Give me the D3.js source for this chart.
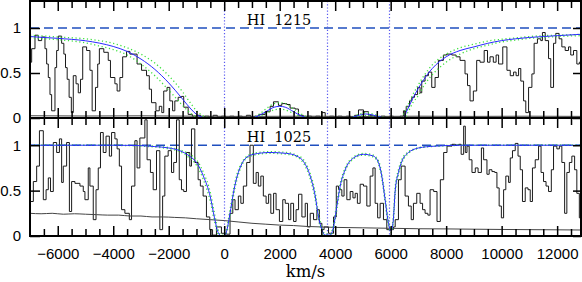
<!DOCTYPE html>
<html>
<head>
<meta charset="utf-8">
<script src="https://cdn.jsdelivr.net/npm/d3@7"></script>
<style>
body { margin: 0; background: #fff; }
svg { display: block; }
.frame { fill: none; stroke: #000; stroke-width: 2; }
.spec { fill: none; stroke: #1a1a1a; stroke-width: 1; }
.err { fill: none; stroke: #444; stroke-width: 1; }
.fit { fill: none; stroke: #2a2aff; stroke-width: 1; }
.band { fill: none; stroke: #3ee03e; stroke-width: 1.3; stroke-dasharray: 1.2,2.6; }
.cont { stroke: #1f4fbf; stroke-width: 1.3; stroke-dasharray: 9,5; }
.vmark { stroke: #5a5af0; stroke-width: 1.2; stroke-dasharray: 1.2,2; }
.ion { font-family: "DejaVu Serif"; font-size: 14.5px; white-space: pre; }
.unit { font-family: "DejaVu Serif"; font-size: 16.5px; }
</style>
</head>
<body>
<svg class="chart"></svg>
<script>

//
// data
//

// velocities of the three absorbers (km/s)
var marks = [0, 3710, 5950];

var xTicks = [-6000, -4000, -2000, 0, 2000, 4000, 6000, 8000, 10000, 12000];
var yTicks = [0, 0.5, 1];

// HI 1215 spectrum, [bin start km/s, flux]
var lyaSpec = [
    [-7000, 0.62], [-6940, 0.77], [-6820, 0.92], [-6700, 0.86], [-6580, 0.90], [-6460, 0.77],
    [-6400, 0.60], [-6340, 0.45], [-6280, 0.26], [-6220, 0.08], [-6100, 0.56], [-6040, 0.75],
    [-5980, 0.91], [-5860, 0.83], [-5780, 0.71], [-5720, 0.56], [-5660, 0.43], [-5590, 0.23],
    [-5510, 0.06], [-5440, 0.47], [-5340, 0.38], [-5260, 0.28], [-5180, 0.43], [-5100, 0.79],
    [-4960, 0.75], [-4840, 0.53], [-4760, 0.08], [-4640, 0.34], [-4560, 0.60], [-4500, 0.77],
    [-4340, 0.73], [-4180, 0.64], [-4100, 0.45], [-3940, 0.38], [-3860, 0.30], [-3760, 0.45],
    [-3660, 0.68], [-3520, 0.74], [-3400, 0.71], [-3140, 0.60], [-2980, 0.53], [-2800, 0.47],
    [-2700, 0.32], [-2620, 0.17], [-2460, 0.08], [-2340, 0.13], [-2250, 0.06], [-2180, 0.30],
    [-2060, 0.34], [-1960, 0.19], [-1860, 0.08], [-1780, 0.19], [-1660, 0.23], [-1540, 0.24],
    [-1460, 0.12], [-1300, 0.04], [-1150, 0.02], [-1000, 0.03], [-850, 0.01], [-700, 0.02],
    [-550, 0.01], [-400, 0.03], [-250, 0.01], [-100, 0.02], [50, 0.01], [200, 0.02],
    [350, 0.01], [500, 0.02], [650, 0.01], [800, 0.03], [950, 0.01], [1100, 0.02],
    [1250, 0.04], [1475, 0.07], [1655, 0.13], [1775, 0.18], [1955, 0.14], [2075, 0.16],
    [2255, 0.15], [2375, 0.11], [2555, 0.10], [2675, 0.03], [2850, 0.01], [3000, 0.02],
    [3150, 0.01], [3300, 0.02], [3450, 0.01], [3520, 0.06], [3640, 0.01], [3800, 0.02],
    [3950, 0.01], [4100, 0.02], [4250, 0.01], [4400, 0.02], [4550, 0.01], [4700, 0.03],
    [4840, 0.09], [5020, 0.07], [5200, 0.03], [5350, 0.02], [5500, 0.01], [5650, 0.02],
    [5800, 0.01], [5950, 0.02], [6100, 0.01], [6340, 0.02], [6460, 0.08], [6560, 0.13],
    [6680, 0.19], [6760, 0.23], [6860, 0.26], [6970, 0.34], [7060, 0.28], [7120, 0.41],
    [7240, 0.47], [7360, 0.51], [7480, 0.34], [7600, 0.45], [7720, 0.64], [7900, 0.70],
    [8020, 0.71], [8200, 0.70], [8360, 0.68], [8500, 0.64], [8680, 0.49], [8770, 0.36],
    [8860, 0.19], [8980, 0.30], [9100, 0.64], [9220, 0.62], [9370, 0.75], [9490, 0.62],
    [9580, 0.68], [9700, 0.62], [9800, 0.70], [9890, 0.60], [10040, 0.79], [10190, 0.53],
    [10310, 0.47], [10430, 0.51], [10520, 0.47], [10610, 0.55], [10690, 0.41], [10790, 0.19],
    [10870, 0.06], [10970, 0.34], [11090, 0.49], [11170, 0.83], [11290, 0.88], [11410, 0.86],
    [11470, 0.95], [11570, 0.86], [11690, 0.66], [11770, 0.34], [11870, 0.83], [11950, 0.94],
    [12070, 0.88], [12170, 0.79], [12290, 0.75], [12410, 0.79], [12490, 0.70], [12590, 0.75],
    [12710, 0.60], [12800, 0.62], [12870, 0.62]
];

var lyaErr = [
    [-7000, 0.025], [-5000, 0.022], [-3000, 0.024], [-1000, 0.02], [1000, 0.018],
    [3000, 0.02], [5000, 0.017], [7000, 0.02], [9000, 0.018], [11000, 0.02], [12870, 0.018]
];

// fit and its error band
var lyaFit = [
    [-7000, 0.905], [-6000, 0.885], [-5000, 0.858], [-4500, 0.832], [-4000, 0.795],
    [-3500, 0.74], [-3000, 0.655], [-2500, 0.54], [-2000, 0.39], [-1500, 0.21],
    [-1200, 0.10], [-1000, 0.04], [-800, 0.008], [-600, 0], [900, 0], [1200, 0.02],
    [1500, 0.07], [1800, 0.12], [2000, 0.13], [2200, 0.12], [2500, 0.07], [2800, 0.02],
    [3000, 0.003], [3200, 0], [4500, 0], [4800, 0.025], [5100, 0.045], [5400, 0.03],
    [5700, 0.005], [6000, 0], [6450, 0], [6600, 0.09], [6800, 0.22], [7000, 0.33],
    [7200, 0.43], [7500, 0.55], [8000, 0.68], [8500, 0.75], [9000, 0.79], [9500, 0.83],
    [10000, 0.86], [10500, 0.88], [11000, 0.895], [11500, 0.905], [12000, 0.915], [12870, 0.93]
];
var lyaFitHi = [
    [-7000, 0.92], [-6000, 0.90], [-5000, 0.88], [-4500, 0.86], [-4000, 0.83],
    [-3500, 0.78], [-3000, 0.71], [-2500, 0.61], [-2000, 0.47], [-1500, 0.29],
    [-1200, 0.16], [-1000, 0.08], [-800, 0.03], [-600, 0.005], [-400, 0], [900, 0],
    [1200, 0.03], [1500, 0.10], [1800, 0.16], [2000, 0.17], [2200, 0.16], [2500, 0.10],
    [2800, 0.04], [3000, 0.01], [3300, 0], [4500, 0], [4800, 0.035], [5100, 0.06],
    [5400, 0.04], [5700, 0.01], [6000, 0], [6350, 0], [6600, 0.13], [6800, 0.26],
    [7000, 0.37], [7200, 0.47], [7500, 0.59], [8000, 0.71], [8500, 0.78], [9000, 0.82],
    [9500, 0.855], [10000, 0.875], [10500, 0.89], [11000, 0.905], [11500, 0.915],
    [12000, 0.92], [12870, 0.93]
];
var lyaFitLo = [
    [-7000, 0.89], [-6000, 0.87], [-5000, 0.835], [-4500, 0.80], [-4000, 0.76],
    [-3500, 0.70], [-3000, 0.60], [-2500, 0.47], [-2000, 0.31], [-1500, 0.14],
    [-1200, 0.05], [-1000, 0.01], [-800, 0], [1000, 0], [1200, 0.01], [1500, 0.05],
    [1800, 0.09], [2000, 0.10], [2200, 0.09], [2500, 0.05], [2800, 0.01], [3000, 0],
    [4600, 0], [4800, 0.015], [5100, 0.03], [5400, 0.02], [5700, 0], [6500, 0],
    [6600, 0.05], [6800, 0.17], [7000, 0.25], [7200, 0.36], [7500, 0.48], [8000, 0.62],
    [8500, 0.71], [9000, 0.77], [9500, 0.81], [10000, 0.845], [10500, 0.865],
    [11000, 0.885], [11500, 0.895], [12000, 0.905], [12870, 0.915]
];

// HI 1025 spectrum, [bin start km/s, flux]
var lybSpec = [
    [-7000, 0.38], [-6880, 0.60], [-6760, 0.77], [-6660, 1.16], [-6520, 0.40], [-6420, 0.51],
    [-6340, 0.64], [-6260, 0.49], [-6160, 1.03], [-6040, 0.92], [-5940, 1.07], [-5860, 0.59],
    [-5800, 0.77], [-5680, 1.03], [-5580, 0.27], [-5500, 0.60], [-5380, 0.58], [-5200, 0.55],
    [-5080, 0.49], [-5020, 0.40], [-4900, 0.75], [-4840, 0.55], [-4720, 0.18], [-4620, 0.51],
    [-4540, 0.75], [-4460, 1.14], [-4360, 0.92], [-4260, 1.10], [-4140, 0.88], [-4060, 1.14],
    [-3940, 1.07], [-3860, 0.96], [-3780, 0.77], [-3700, 0.29], [-3580, 0.25], [-3420, 0.18],
    [-3340, 0.55], [-3220, 1.05], [-3140, 0.75], [-3040, 1.08], [-2860, 1.28], [-2780, 0.84],
    [-2660, 0.70], [-2560, 0.51], [-2440, 0.94], [-2320, 0.07], [-2220, 0.44], [-2140, 0.88],
    [-2020, 0.94], [-1900, 0.70], [-1820, 0.81], [-1720, 1.28], [-1620, 0.62], [-1540, 0.51],
    [-1460, 0.49], [-1360, 0.92], [-1240, 0.77], [-1180, 1.18], [-1060, 0.81], [-940, 0.62],
    [-860, 0.55], [-760, 0.44], [-640, 0.21], [-520, 0.07], [-420, 0.01], [-280, 0.10],
    [-100, 0.03], [80, 0.02], [210, 0.25], [310, 0.40], [390, 0.29], [510, 0.44],
    [600, 0.36], [690, 0.55], [810, 0.81], [930, 1.0], [1050, 0.58], [1150, 0.70],
    [1230, 0.55], [1320, 0.66], [1410, 0.44], [1510, 0.36], [1600, 0.46], [1680, 0.25],
    [1780, 0.47], [1870, 0.29], [1990, 0.16], [2110, 0.40], [2200, 0.36], [2320, 0.18],
    [2400, 0.36], [2500, 0.16], [2590, 0.29], [2680, 0.46], [2800, 0.21], [2920, 0.36],
    [3000, 0.10], [3100, 0.25], [3220, 0.18], [3340, 0.29], [3430, 0.14], [3520, 0.07],
    [3600, 0.10], [3760, 0.03], [3940, 0.21], [4040, 0.55], [4120, 0.51], [4240, 0.44],
    [4320, 0.62], [4420, 0.40], [4540, 0.49], [4640, 0.42], [4720, 0.47], [4800, 0.36],
    [4900, 0.57], [5020, 0.55], [5140, 0.33], [5260, 0.66], [5360, 0.75], [5440, 0.36],
    [5530, 0.20], [5620, 0.36], [5740, 0.18], [5860, 0.07], [6100, 0.10], [6163, 0.18],
    [6280, 0.62], [6380, 0.77], [6520, 0.44], [6640, 0.33], [6740, 0.18], [6820, 0.36],
    [6940, 0.47], [7060, 0.36], [7150, 0.29], [7240, 0.25], [7340, 0.23], [7420, 0.51],
    [7550, 0.49], [7670, 0.16], [7790, 0.62], [7910, 0.92], [8030, 0.99], [8210, 1.01],
    [8330, 1.0], [8450, 1.01], [8540, 0.90], [8630, 1.21], [8690, 0.92], [8750, 0.99],
    [8830, 0.84], [8930, 0.70], [9050, 0.75], [9150, 0.70], [9270, 0.97], [9350, 0.84],
    [9470, 0.68], [9550, 0.73], [9650, 0.71], [9750, 0.70], [9830, 0.53], [9910, 0.33],
    [9990, 0.20], [10070, 0.51], [10150, 0.66], [10250, 0.59], [10310, 0.86], [10390, 0.94],
    [10490, 1.02], [10590, 0.88], [10670, 0.73], [10750, 0.38], [10850, 0.53], [10950, 0.51],
    [11030, 0.38], [11110, 0.75], [11210, 0.84], [11330, 0.99], [11420, 0.70], [11510, 0.60],
    [11600, 0.55], [11690, 0.49], [11790, 0.73], [11870, 0.99], [11990, 0.96], [12080, 0.99],
    [12170, 0.81], [12270, 0.25], [12350, 0.70], [12440, 0.81], [12530, 0.88], [12630, 0.73],
    [12710, 0.47], [12800, 0.20], [12870, 0.20]
];

var lybErr = [
    [-7000, 0.25], [-6600, 0.245], [-6200, 0.25], [-5800, 0.24], [-5400, 0.245], [-5000, 0.24],
    [-4600, 0.235], [-4200, 0.23], [-3800, 0.23], [-3400, 0.22], [-3000, 0.22], [-2600, 0.21],
    [-2200, 0.21], [-1800, 0.205], [-1400, 0.2], [-1000, 0.19], [-500, 0.18], [0, 0.17],
    [500, 0.155], [1000, 0.14], [1500, 0.13], [2000, 0.12], [2500, 0.115], [3000, 0.105],
    [3500, 0.1], [4000, 0.095], [5000, 0.09], [6000, 0.085], [7000, 0.08], [8000, 0.078],
    [9000, 0.075], [10000, 0.072], [11000, 0.07], [12000, 0.068], [12870, 0.066]
];

var lybFit = [
    [-7000, 1.0], [-4000, 1.0], [-3000, 0.995], [-2500, 0.985], [-2000, 0.97], [-1600, 0.94],
    [-1250, 0.88], [-1000, 0.81], [-750, 0.66], [-500, 0.43], [-350, 0.20], [-220, 0.04],
    [-100, 0.0], [20, 0.0], [100, 0.07], [210, 0.25], [330, 0.47], [450, 0.64], [570, 0.75],
    [750, 0.85], [1050, 0.90], [1650, 0.92], [2250, 0.91], [2620, 0.88], [2860, 0.82],
    [3100, 0.66], [3280, 0.44], [3400, 0.21], [3520, 0.07], [3640, 0.01], [3820, 0.01],
    [3940, 0.1], [4060, 0.33], [4180, 0.55], [4360, 0.73], [4660, 0.86], [5020, 0.90],
    [5380, 0.88], [5560, 0.81], [5680, 0.66], [5800, 0.40], [5920, 0.14], [6010, 0.06],
    [6090, 0.16], [6163, 0.50], [6280, 0.70], [6400, 0.82], [6640, 0.92], [6800, 0.95],
    [7000, 0.97], [7600, 0.99], [8600, 1.0], [12870, 1.0]
];
var lybFitHi = [
    [-7000, 1.0], [-4000, 1.0], [-3000, 0.997], [-2500, 0.99], [-2000, 0.975], [-1600, 0.95],
    [-1250, 0.90], [-1000, 0.84], [-750, 0.70], [-500, 0.48], [-350, 0.25], [-220, 0.07],
    [-100, 0.01], [20, 0.01], [100, 0.10], [210, 0.29], [330, 0.51], [450, 0.67], [570, 0.77],
    [750, 0.86], [1050, 0.91], [1650, 0.93], [2250, 0.92], [2620, 0.89], [2860, 0.84],
    [3100, 0.69], [3280, 0.48], [3400, 0.25], [3520, 0.09], [3640, 0.02], [3820, 0.02],
    [3940, 0.13], [4060, 0.37], [4180, 0.58], [4360, 0.75], [4660, 0.87], [5020, 0.91],
    [5380, 0.89], [5560, 0.83], [5680, 0.69], [5800, 0.44], [5920, 0.17], [6010, 0.08],
    [6090, 0.2], [6163, 0.54], [6280, 0.73], [6400, 0.84], [6640, 0.93], [6800, 0.955],
    [7000, 0.975], [7600, 0.992], [8600, 1.0], [12870, 1.0]
];
var lybFitLo = [
    [-7000, 1.0], [-4000, 0.998], [-3000, 0.99], [-2500, 0.98], [-2000, 0.96], [-1600, 0.93],
    [-1250, 0.86], [-1000, 0.78], [-750, 0.62], [-500, 0.38], [-350, 0.16], [-220, 0.02],
    [-100, 0.0], [20, 0.0], [100, 0.05], [210, 0.21], [330, 0.43], [450, 0.61], [570, 0.73],
    [750, 0.84], [1050, 0.89], [1650, 0.91], [2250, 0.90], [2620, 0.87], [2860, 0.80],
    [3100, 0.63], [3280, 0.40], [3400, 0.18], [3520, 0.05], [3640, 0.0], [3820, 0.0],
    [3940, 0.08], [4060, 0.29], [4180, 0.52], [4360, 0.71], [4660, 0.85], [5020, 0.89],
    [5380, 0.87], [5560, 0.79], [5680, 0.63], [5800, 0.36], [5920, 0.11], [6010, 0.04],
    [6090, 0.13], [6163, 0.46], [6280, 0.67], [6400, 0.80], [6640, 0.91], [6800, 0.945],
    [7000, 0.965], [7600, 0.988], [8600, 0.998], [12870, 1.0]
];


//
// scene
//

var width = 582,
    height = 282;

var svg = d3.select(".chart")
    .attr("width", width)
    .attr("height", height);

var x = d3.scaleLinear()
    .domain([-7000, 12860])
    .range([30, 581]);

var panels = [
    { label: "HI  1215", top: 1, bottom: 118, spec: lyaSpec, err: lyaErr,
      fit: lyaFit, hi: lyaFitHi, lo: lyaFitLo },
    { label: "HI  1025", top: 118, bottom: 236, spec: lybSpec, err: lybErr,
      fit: lybFit, hi: lybFitHi, lo: lybFitLo }
];

var minorTicks = d3.range(-6500, 12900, 500).filter(function (v) { return v % 2000 !== 0; });

function styleAxis(g) {
    g.select(".domain").remove();
    g.selectAll("line").attr("stroke", "#000").attr("stroke-width", 1.5);
    g.selectAll("text")
        .attr("fill", "#000")
        .attr("font-family", "Liberation Sans")
        .attr("font-size", 15);
}

panels.forEach(function (p, i) {
    var y = d3.scaleLinear()
        .domain([0, 1.3])
        .range([p.bottom, p.top]);

    var clipId = "clip" + i;
    svg.append("clipPath").attr("id", clipId)
        .append("rect")
        .attr("x", x.range()[0])
        .attr("y", p.top)
        .attr("width", x.range()[1] - x.range()[0])
        .attr("height", p.bottom - p.top);

    var g = svg.append("g").attr("clip-path", "url(#" + clipId + ")");

    // continuum
    g.append("line")
        .attr("class", "cont")
        .attr("x1", x.range()[0])
        .attr("x2", x.range()[1])
        .attr("y1", y(1))
        .attr("y2", y(1));

    // absorber velocities
    g.selectAll("line.vmark")
        .data(marks)
        .enter().append("line")
        .attr("class", "vmark")
        .attr("x1", function (d) { return Math.round(x(d)) + 0.5; })
        .attr("x2", function (d) { return Math.round(x(d)) + 0.5; })
        .attr("y1", p.top)
        .attr("y2", p.bottom);

    var step = d3.line()
        .x(function (d) { return x(d[0]); })
        .y(function (d) { return y(d[1]); })
        .curve(d3.curveStepAfter);

    var smooth = d3.line()
        .x(function (d) { return x(d[0]); })
        .y(function (d) { return y(d[1]); })
        .curve(d3.curveMonotoneX);

    g.append("path").attr("class", "spec").attr("d", step(p.spec));
    g.append("path").attr("class", "err").attr("d", smooth(p.err));
    g.append("path").attr("class", "band").attr("d", smooth(p.hi));
    g.append("path").attr("class", "band").attr("d", smooth(p.lo));
    g.append("path").attr("class", "fit").attr("d", smooth(p.fit));

    // ticks, inward on all four sides
    svg.append("g")
        .attr("transform", "translate(0," + p.bottom + ")")
        .call(d3.axisBottom(x).tickValues(minorTicks).tickSize(-7).tickFormat(""))
        .call(styleAxis);
    svg.append("g")
        .attr("transform", "translate(0," + p.bottom + ")")
        .call(d3.axisBottom(x).tickValues(xTicks).tickSize(-10).tickFormat(""))
        .call(styleAxis);
    svg.append("g")
        .attr("transform", "translate(0," + p.top + ")")
        .call(d3.axisTop(x).tickValues(minorTicks).tickSize(-7).tickFormat(""))
        .call(styleAxis);
    svg.append("g")
        .attr("transform", "translate(0," + p.top + ")")
        .call(d3.axisTop(x).tickValues(xTicks).tickSize(-10).tickFormat(""))
        .call(styleAxis);

    svg.append("g")
        .attr("transform", "translate(" + x.range()[0] + ",0)")
        .call(d3.axisLeft(y).tickValues(yTicks).tickSize(-10).tickPadding(9)
            .tickFormat(d3.format("")))
        .call(styleAxis);
    svg.append("g")
        .attr("transform", "translate(" + x.range()[1] + ",0)")
        .call(d3.axisRight(y).tickValues(yTicks).tickSize(-8).tickFormat(""))
        .call(styleAxis);

    // frame
    svg.append("rect")
        .attr("class", "frame")
        .attr("x", x.range()[0])
        .attr("y", p.top)
        .attr("width", x.range()[1] - x.range()[0])
        .attr("height", p.bottom - p.top);

    // ion label
    svg.append("text")
        .attr("class", "ion")
        .attr("x", 279)
        .attr("y", p.top + 24)
        .attr("text-anchor", "middle")
        .text(p.label);
});

// x labels
svg.append("g")
    .attr("transform", "translate(0," + panels[1].bottom + ")")
    .call(d3.axisBottom(x).tickValues(xTicks).tickSize(0).tickPadding(12)
        .tickFormat(d3.format("d")))
    .call(styleAxis);

svg.append("text")
    .attr("class", "unit")
    .attr("x", (x.range()[0] + x.range()[1]) / 2)
    .attr("y", 277)
    .attr("text-anchor", "middle")
    .text("km/s");

</script>
</body>
</html>
